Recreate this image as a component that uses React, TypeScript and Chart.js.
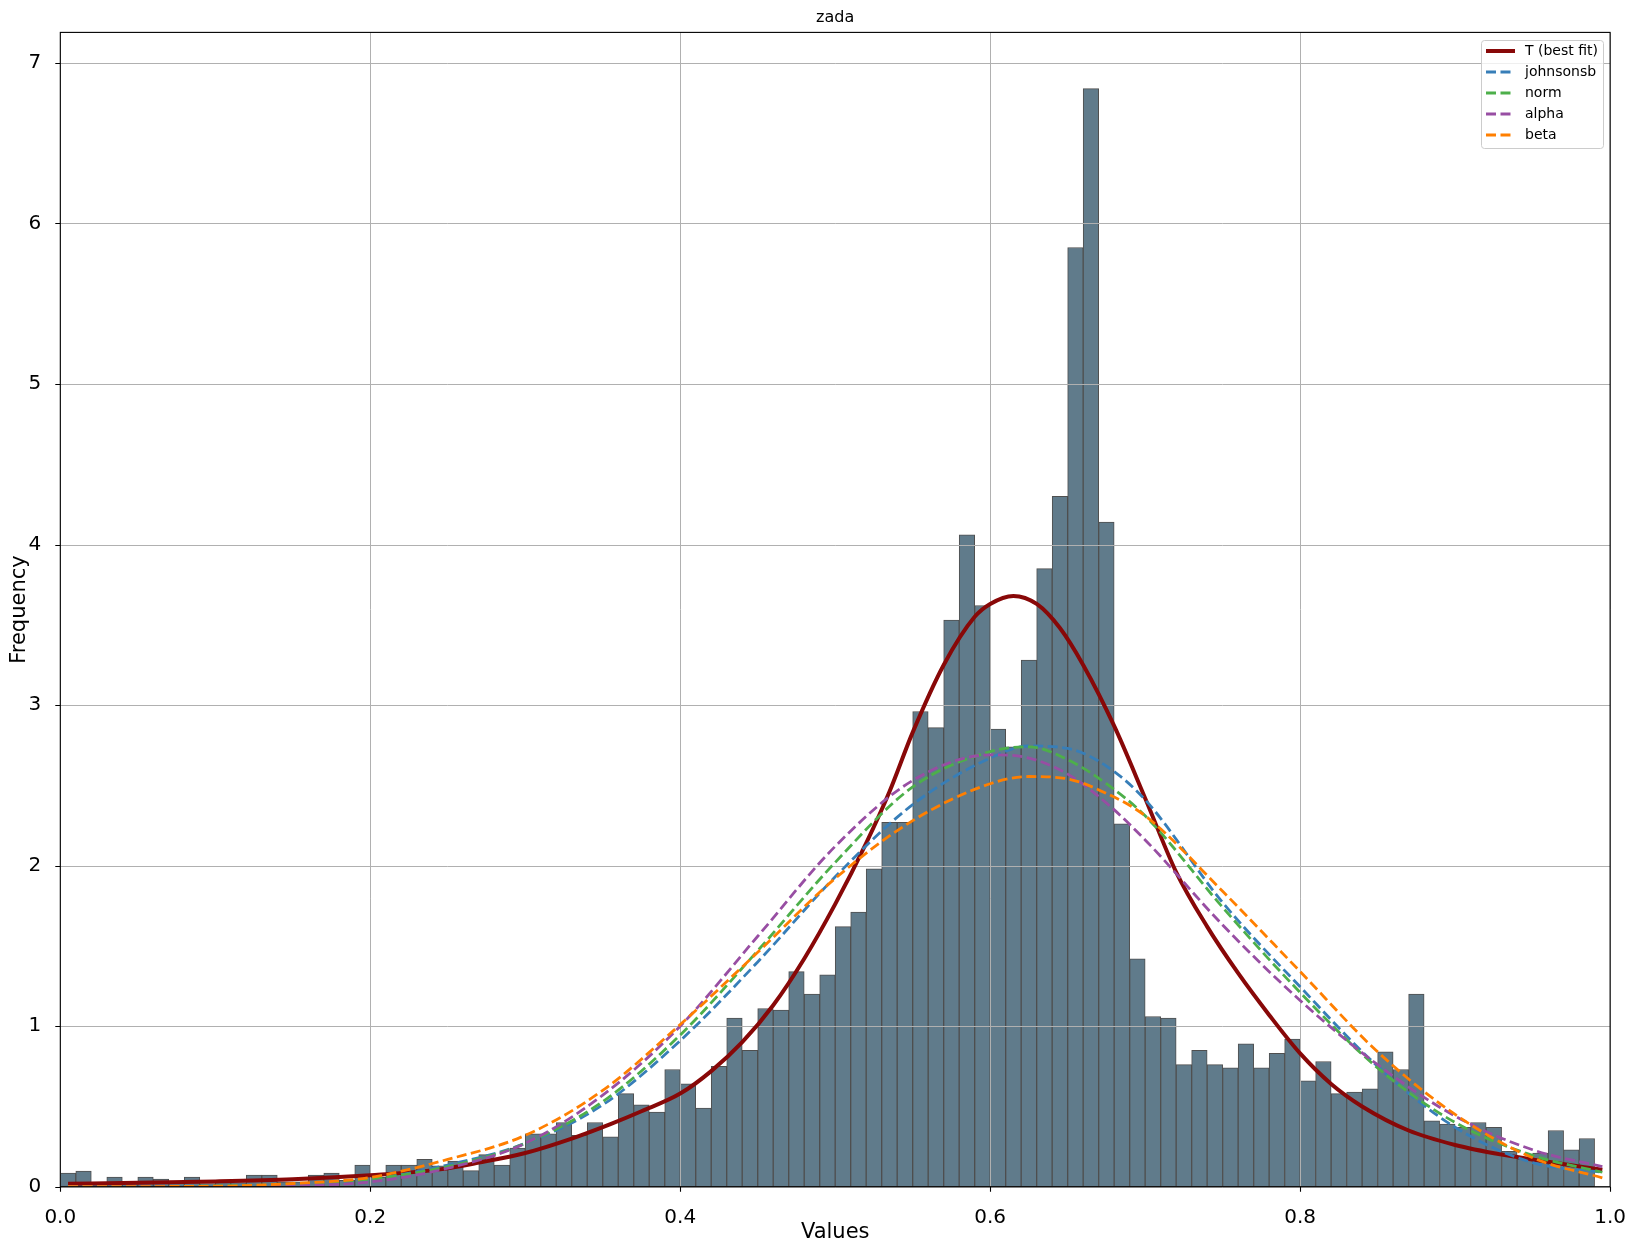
import React, { useEffect, useRef } from 'react';
import { Chart, registerables } from 'chart.js';

Chart.register(...registerables);

// ---- data ----
const binStart = 0.0;
const binWidth = 0.01;
const frequencies = [
  0.085, 0.098, 0.015, 0.06, 0.02, 0.06, 0.048, 0.025, 0.06, 0.02,
  0.025, 0.025, 0.073, 0.073, 0.03, 0.03, 0.073, 0.085, 0.04, 0.135,
  0.06, 0.135, 0.135, 0.17, 0.13, 0.16, 0.10, 0.20, 0.135, 0.24,
  0.33, 0.33, 0.40, 0.32, 0.40, 0.31, 0.58, 0.51, 0.465, 0.73,
  0.64, 0.49, 0.75, 1.05, 0.85, 1.11, 1.10, 1.34, 1.20, 1.32,
  1.62, 1.71, 1.98, 2.27, 2.27, 2.96, 2.86, 3.53, 4.06, 3.62,
  2.85, 2.74, 3.28, 3.85, 4.30, 5.85, 6.84, 4.14, 2.26, 1.42,
  1.06, 1.05, 0.76, 0.85, 0.76, 0.74, 0.89, 0.74, 0.83, 0.92,
  0.66, 0.78, 0.58, 0.59, 0.61, 0.84, 0.73, 1.20, 0.41, 0.39,
  0.37, 0.40, 0.37, 0.22, 0.17, 0.21, 0.35, 0.23, 0.30,
];

const tX = [0.005, 0.05, 0.1, 0.15, 0.2, 0.245, 0.27, 0.3, 0.33, 0.355, 0.375, 0.4, 0.42, 0.44, 0.46, 0.48, 0.5, 0.52, 0.535, 0.55, 0.57, 0.59, 0.6, 0.615, 0.63, 0.645, 0.66, 0.68, 0.7, 0.72, 0.74, 0.76, 0.78, 0.8, 0.82, 0.84, 0.87, 0.9, 0.93, 0.96, 0.995];
const tY = [0.019, 0.024, 0.033, 0.047, 0.072, 0.108, 0.15, 0.21, 0.30, 0.39, 0.47, 0.58, 0.72, 0.90, 1.13, 1.42, 1.76, 2.14, 2.46, 2.83, 3.25, 3.55, 3.63, 3.68, 3.63, 3.48, 3.25, 2.87, 2.42, 1.96, 1.62, 1.33, 1.07, 0.83, 0.64, 0.50, 0.35, 0.26, 0.20, 0.155, 0.105];

const dashX = [0.005, 0.1, 0.15, 0.2, 0.25, 0.3, 0.35, 0.4, 0.45, 0.5, 0.55, 0.6, 0.625, 0.65, 0.675, 0.7, 0.75, 0.8, 0.85, 0.9, 0.95, 0.995];
const johnsonsbY = [0.0, 0.003, 0.013, 0.047, 0.135, 0.27, 0.51, 0.91, 1.40, 1.93, 2.38, 2.67, 2.745, 2.73, 2.62, 2.41, 1.77, 1.245, 0.75, 0.37, 0.15, 0.09];
const normY = [0.0, 0.004, 0.016, 0.048, 0.125, 0.27, 0.53, 0.945, 1.47, 2.02, 2.49, 2.71, 2.74, 2.66, 2.51, 2.31, 1.74, 1.21, 0.74, 0.40, 0.195, 0.09];
const alphaY = [0.0, 0.001, 0.006, 0.03, 0.115, 0.27, 0.57, 1.00, 1.56, 2.12, 2.53, 2.69, 2.67, 2.57, 2.39, 2.16, 1.63, 1.16, 0.76, 0.44, 0.23, 0.125];
const betaY = [0.0, 0.003, 0.02, 0.058, 0.17, 0.32, 0.60, 1.01, 1.46, 1.92, 2.28, 2.51, 2.555, 2.54, 2.45, 2.31, 1.84, 1.34, 0.84, 0.45, 0.18, 0.055];

const xTickValues = [0, 0.2, 0.4, 0.6, 0.8, 1.0];
const yTickValues = [0, 1, 2, 3, 4, 5, 6, 7];

const legendItems = [
  { label: 'T (best fit)', color: '#880808', dash: [] as number[], width: 4 },
  { label: 'johnsonsb', color: '#377eb8', dash: [10, 4.5], width: 2.8 },
  { label: 'norm', color: '#4daf4a', dash: [10, 4.5], width: 2.8 },
  { label: 'alpha', color: '#984ea3', dash: [10, 4.5], width: 2.8 },
  { label: 'beta', color: '#ff7f00', dash: [10, 4.5], width: 2.8 },
];

const FONT = "'DejaVu Sans', sans-serif";

const mplPlugin = {
  id: 'mplLook',
  afterDatasetDraw(chart: any, args: any) {
    if (args.index !== 0) return;
    const { ctx, chartArea: a, scales } = chart;
    const x = scales.x;
    const y = scales.y;
    ctx.save();
    ctx.strokeStyle = '#b0b0b0';
    ctx.lineWidth = 1;
    ctx.beginPath();
    xTickValues.forEach((v) => {
      const px = Math.round(x.getPixelForValue(v)) + 0.5;
      ctx.moveTo(px, a.top);
      ctx.lineTo(px, a.bottom);
    });
    yTickValues.forEach((v) => {
      const py = Math.round(y.getPixelForValue(v)) + 0.5;
      ctx.moveTo(a.left, py);
      ctx.lineTo(a.right, py);
    });
    ctx.stroke();
    ctx.restore();
  },
  afterDraw(chart: any) {
    const { ctx, chartArea: a, scales } = chart;
    const x = scales.x;
    const y = scales.y;
    ctx.save();
    // frame
    ctx.strokeStyle = '#000';
    ctx.lineWidth = 1.1;
    ctx.strokeRect(a.left, a.top, a.right - a.left, a.bottom - a.top);
    // tick marks
    ctx.beginPath();
    xTickValues.forEach((v) => {
      const px = Math.round(x.getPixelForValue(v)) + 0.5;
      ctx.moveTo(px, a.bottom);
      ctx.lineTo(px, a.bottom + 5);
    });
    yTickValues.forEach((v) => {
      const py = Math.round(y.getPixelForValue(v)) + 0.5;
      ctx.moveTo(a.left - 5, py);
      ctx.lineTo(a.left, py);
    });
    ctx.stroke();
    // title
    ctx.fillStyle = '#000';
    ctx.font = `16px ${FONT}`;
    ctx.textAlign = 'center';
    ctx.textBaseline = 'middle';
    ctx.fillText('zada', (a.left + a.right) / 2, 17.5);
    // legend
    const bx = 1481, by = 40, bw = 122, bh = 108;
    ctx.beginPath();
    ctx.roundRect(bx + 0.5, by + 0.5, bw, bh, 3);
    ctx.fillStyle = 'rgba(255,255,255,0.8)';
    ctx.fill();
    ctx.strokeStyle = '#cccccc';
    ctx.lineWidth = 1;
    ctx.stroke();
    ctx.font = `14px ${FONT}`;
    ctx.textAlign = 'left';
    legendItems.forEach((it, i) => {
      const cy = 51 + i * 21;
      ctx.beginPath();
      ctx.setLineDash(it.dash);
      ctx.strokeStyle = it.color;
      ctx.lineWidth = it.width;
      ctx.moveTo(1486, cy);
      ctx.lineTo(1515, cy);
      ctx.stroke();
      ctx.setLineDash([]);
      ctx.fillStyle = '#000';
      ctx.fillText(it.label, 1525, cy);
    });
    ctx.restore();
  },
};

export default function App() {
  const canvasRef = useRef<HTMLCanvasElement | null>(null);

  useEffect(() => {
    const canvas = canvasRef.current;
    if (!canvas) return;
    const barData = frequencies.map((f, i) => ({ x: binStart + binWidth * (i + 0.5), y: f }));
    const toPts = (xs: number[], ys: number[]) => xs.map((v, i) => ({ x: v, y: ys[i] }));
    const lineBase = {
      type: 'line' as const,
      pointRadius: 0,
      fill: false,
      cubicInterpolationMode: 'monotone' as const,
      borderWidth: 2.8,
      borderDash: [10, 4.5],
    };
    const chart = new Chart(canvas, {
      type: 'bar',
      data: {
        datasets: [
          {
            type: 'bar',
            label: 'hist',
            data: barData as any,
            backgroundColor: '#607B8B',
            borderColor: '#4f4f4f',
            borderWidth: 1,
            borderSkipped: false,
            barPercentage: 1,
            categoryPercentage: 1,
            order: 10,
          } as any,
          { ...lineBase, label: 'T (best fit)', data: toPts(tX, tY), borderColor: '#880808', borderWidth: 4, borderDash: [], order: 5 } as any,
          { ...lineBase, label: 'johnsonsb', data: toPts(dashX, johnsonsbY), borderColor: '#377eb8', order: 4 } as any,
          { ...lineBase, label: 'norm', data: toPts(dashX, normY), borderColor: '#4daf4a', order: 3 } as any,
          { ...lineBase, label: 'alpha', data: toPts(dashX, alphaY), borderColor: '#984ea3', order: 2 } as any,
          { ...lineBase, label: 'beta', data: toPts(dashX, betaY), borderColor: '#ff7f00', order: 1 } as any,
        ],
      },
      options: {
        responsive: false,
        animation: false,
        devicePixelRatio: 1,
        layout: { padding: { top: 32.4, right: 26.7, bottom: 0, left: 0 } },
        plugins: {
          legend: { display: false },
          title: { display: false },
          tooltip: { enabled: false },
        },
        scales: {
          x: {
            type: 'linear',
            min: 0,
            max: 1,
            offset: false,
            grid: { display: false, offset: false },
            border: { display: false },
            ticks: {
              stepSize: 0.2,
              color: '#000',
              padding: 11,
              maxRotation: 0,
              font: { family: FONT, size: 20 },
              callback: (v: any) => Number(v).toFixed(1),
            },
            title: {
              display: true,
              text: 'Values',
              color: '#000',
              font: { family: FONT, size: 21 },
              padding: { top: 0, bottom: 7 },
            },
            afterFit: (s: any) => { s.height = 65.3; },
          },
          y: {
            type: 'linear',
            min: 0,
            max: 7.19,
            grid: { display: false },
            border: { display: false },
            ticks: {
              stepSize: 1,
              includeBounds: false,
              color: '#000',
              padding: 11,
              font: { family: FONT, size: 20 },
              callback: (v: any) => String(Math.round(Number(v))),
            },
            title: {
              display: true,
              text: 'Frequency',
              color: '#000',
              font: { family: FONT, size: 21 },
              padding: { top: 7.4, bottom: 0 },
            },
            afterFit: (s: any) => { s.width = 60.3; },
          },
        },
      },
      plugins: [mplPlugin],
    });
    return () => chart.destroy();
  }, []);

  return (
    <div style={{ position: 'absolute', left: 0, top: 0, width: 1637, height: 1252, background: '#fff' }}>
      <canvas ref={canvasRef} width={1637} height={1252} style={{ display: 'block' }} />
    </div>
  );
}
